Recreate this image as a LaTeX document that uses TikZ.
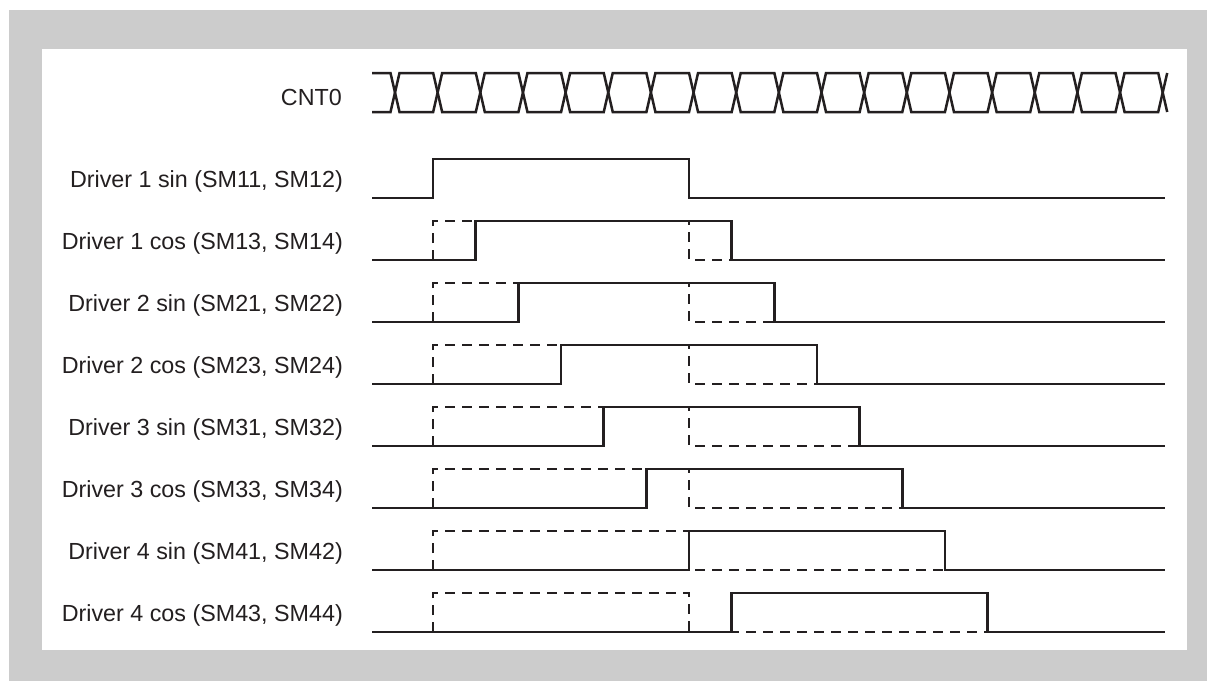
\documentclass[tikz,border=0pt]{standalone}
\usepackage{fontspec}
\setmainfont{Liberation Sans}
\definecolor{framegray}{HTML}{CCCCCC}
\definecolor{ink}{HTML}{231F20}
\begin{document}
\begin{tikzpicture}[x=1pt,y=-1pt,
  wave/.style={draw=ink,line width=2.5pt,line join=miter},
  ghost/.style={wave,dash pattern=on 10pt off 7pt},
  lab/.style={anchor=base east,font=\fontsize{23.3}{28}\selectfont,text=ink,inner sep=0pt}]
\useasboundingbox (0,0) rectangle (1207,681);
\fill[framegray] (9,10) rectangle (1207,681);
\fill[white] (42,49) rectangle (1187,650);
% CNT0 bus
\node[lab] (cnt) at (342,105) {CNT0};
\draw[wave] (372,73)
  \foreach \k [evaluate=\k as \c using 395+42.65*\k,
               evaluate=\k as \ya using {73+39*mod(\k,2)},
               evaluate=\k as \yb using {112-39*mod(\k,2)}] in {0,...,18}
  { -- (\c-4.5,\ya) -- (\c+4.5,\yb) };
\draw[wave] (372,112)
  \foreach \k [evaluate=\k as \c using 395+42.65*\k,
               evaluate=\k as \ya using {112-39*mod(\k,2)},
               evaluate=\k as \yb using {73+39*mod(\k,2)}] in {0,...,18}
  { -- (\c-4.5,\ya) -- (\c+4.5,\yb) };
% driver rows
\foreach \i/\name in {0/{Driver 1 sin (SM11, SM12)},1/{Driver 1 cos (SM13, SM14)},
  2/{Driver 2 sin (SM21, SM22)},3/{Driver 2 cos (SM23, SM24)},
  4/{Driver 3 sin (SM31, SM32)},5/{Driver 3 cos (SM33, SM34)},
  6/{Driver 4 sin (SM41, SM42)},7/{Driver 4 cos (SM43, SM44)}} {
  \pgfmathsetmacro\hi{159+62*\i}
  \pgfmathsetmacro\lo{\hi+39}
  \pgfmathsetmacro\ri{433+42.65*\i}
  \pgfmathsetmacro\fa{689+42.65*\i}
  \node[lab] (lab\i) at (343,{(\hi+\lo)/2+9}) {\name};
  \ifnum\i>0
    \draw[ghost] (433,\lo) -- (433,\hi) -- (689,\hi) -- (689,\lo) -- (\fa,\lo);
  \fi
  \draw[wave] (372,\lo) -- (\ri,\lo) -- (\ri,\hi) -- (\fa,\hi) -- (\fa,\lo) -- (1165,\lo);
}
\end{tikzpicture}
\end{document}
